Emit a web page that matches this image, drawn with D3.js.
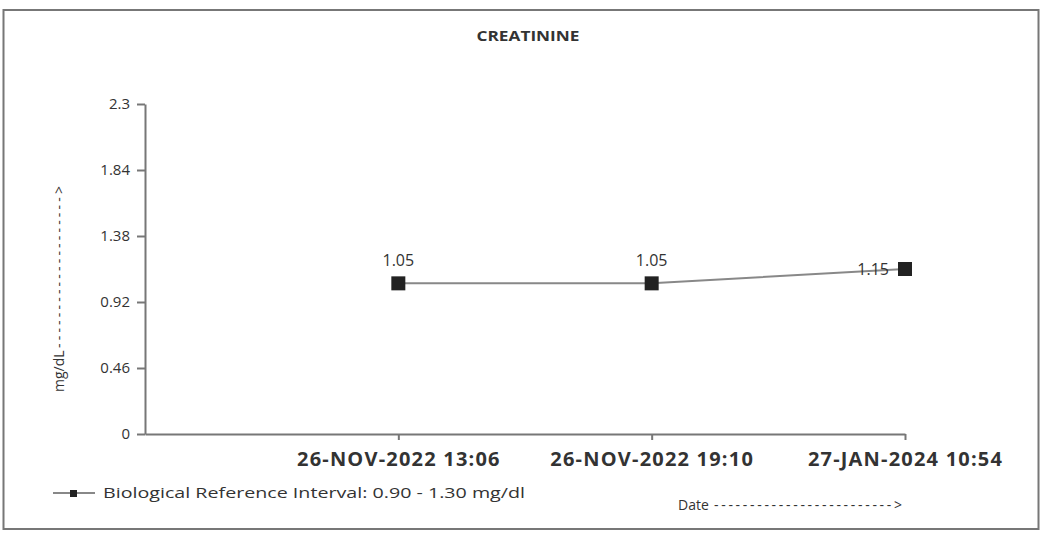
<!DOCTYPE html>
<html>
<head>
<meta charset="utf-8">
<script src="https://cdn.jsdelivr.net/npm/d3@7"></script>
<style>
  body { margin: 0; background: #fff; }
  text { font-family: "Open Sans", "Noto Sans", sans-serif; fill: #333; }
</style>
</head>
<body>
<svg id="chart" width="1041" height="533"></svg>
<script>
  // data
  var dates = ["26-NOV-2022 13:06", "26-NOV-2022 19:10", "27-JAN-2024 10:54"];
  var values = [1.05, 1.05, 1.15];
  var yTicks = [0, 0.46, 0.92, 1.38, 1.84, 2.3];

  var svg = d3.select("#chart");

  // outer frame
  svg.append("rect").attr("x", 3.5).attr("y", 10).attr("width", 1035).attr("height", 519)
    .attr("fill", "none").attr("stroke", "#777").attr("stroke-width", 2);

  svg.append("text").attr("x", 528).attr("y", 41).attr("text-anchor", "middle")
    .attr("font-size", 15).attr("font-weight", "bold").attr("fill", "#555")
    .attr("textLength", 103).attr("lengthAdjust", "spacingAndGlyphs")
    .text("CREATININE");

  var x = d3.scalePoint().domain([""].concat(dates)).range([145, 905]);
  var y = d3.scaleLinear().domain([0, 2.3]).range([434, 104]);

  var yAxis = svg.append("g").attr("transform", "translate(145,0)")
    .call(d3.axisLeft(y).tickValues(yTicks).tickSize(8).tickSizeOuter(0)
      .tickFormat(function(d) { return d === 0 ? "0" : String(d); }));
  yAxis.selectAll("text").attr("font-size", 15).attr("fill", "#444").attr("dx", -4);

  var xAxis = svg.append("g").attr("transform", "translate(0,434)")
    .call(d3.axisBottom(x).tickValues(dates).tickSize(6).tickSizeOuter(0));
  xAxis.selectAll("text").attr("font-size", 20).attr("font-weight", "bold")
    .attr("fill", "#333").attr("letter-spacing", 1.2).attr("dy", "1.15em");

  svg.selectAll(".domain, .tick line").attr("stroke", "#777").attr("stroke-width", 2);

  // series line
  var line = d3.line()
    .x(function(d, i) { return x(dates[i]); })
    .y(function(d) { return y(d); });
  svg.append("path").datum(values).attr("d", line)
    .attr("fill", "none").attr("stroke", "#888").attr("stroke-width", 2);

  svg.selectAll(".marker").data(values).enter().append("rect")
    .attr("class", "marker")
    .attr("x", function(d, i) { return x(dates[i]) - 7; })
    .attr("y", function(d) { return y(d) - 7; })
    .attr("width", 14).attr("height", 14).attr("fill", "#222");

  var last = values.length - 1;
  svg.selectAll(".vlabel").data(values).enter().append("text")
    .attr("class", "vlabel")
    .attr("x", function(d, i) { return i === last ? x(dates[i]) - 16 : x(dates[i]); })
    .attr("y", function(d, i) { return i === last ? y(d) + 6 : y(d) - 17; })
    .attr("text-anchor", function(d, i) { return i === last ? "end" : "middle"; })
    .attr("font-size", 16).attr("fill", "#333")
    .text(function(d) { return d.toFixed(2); });

  // y axis title
  var yt = svg.append("g").attr("transform", "translate(64,392) rotate(-90)");
  yt.append("text").attr("font-size", 14).attr("fill", "#444").text("mg/dL");
  yt.append("text").attr("x", 44).attr("font-size", 14).attr("fill", "#444")
    .attr("textLength", 162).attr("lengthAdjust", "spacing")
    .text("-------------------->");

  // legend
  svg.append("line").attr("x1", 53).attr("x2", 95).attr("y1", 493).attr("y2", 493)
    .attr("stroke", "#888").attr("stroke-width", 2);
  svg.append("rect").attr("x", 70).attr("y", 490).attr("width", 7).attr("height", 7).attr("fill", "#222");
  svg.append("text").attr("x", 103).attr("y", 498).attr("font-size", 14)
    .attr("font-family", "DejaVu Sans").attr("fill", "#555")
    .attr("textLength", 422).attr("lengthAdjust", "spacingAndGlyphs")
    .text("Biological Reference Interval: 0.90 - 1.30 mg/dl");

  // x axis title
  svg.append("text").attr("x", 678).attr("y", 510).attr("font-size", 14).attr("fill", "#444")
    .text("Date");
  svg.append("text").attr("x", 714).attr("y", 510).attr("font-size", 14).attr("fill", "#444")
    .attr("textLength", 188).attr("lengthAdjust", "spacing")
    .text("------------------------->");
</script>
</body>
</html>
